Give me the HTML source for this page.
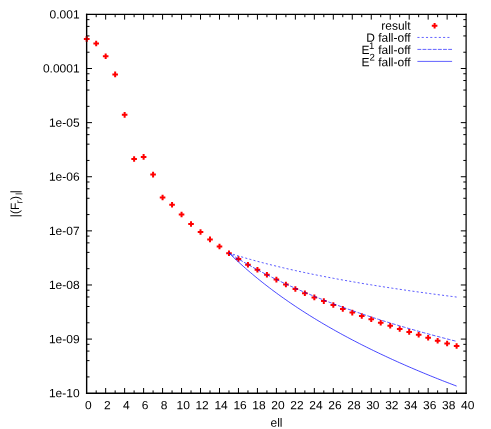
<!DOCTYPE html>
<html><head><meta charset="utf-8"><title>plot</title>
<style>
html,body{margin:0;padding:0;background:#fff;}
svg{display:block;will-change:transform;opacity:0.999}
text{font-family:"Liberation Sans",sans-serif;font-size:12px;fill:#000;text-rendering:geometricPrecision}
</style></head><body>
<svg width="491" height="429" viewBox="0 0 491 429">
<rect width="491" height="429" fill="#fff"/>
<path d="M83.90 39.00h5.6M86.70 36.20v5.6M93.39 43.50h5.6M96.19 40.70v5.6M102.87 56.30h5.6M105.67 53.50v5.6M112.36 74.40h5.6M115.16 71.60v5.6M121.84 114.85h5.6M124.64 112.05v5.6M131.32 159.00h5.6M134.12 156.20v5.6M140.81 156.90h5.6M143.61 154.10v5.6M150.29 174.60h5.6M153.09 171.80v5.6M159.78 197.50h5.6M162.58 194.70v5.6M169.26 204.80h5.6M172.06 202.00v5.6M178.75 214.50h5.6M181.55 211.70v5.6M188.23 224.00h5.6M191.03 221.20v5.6M197.72 232.00h5.6M200.52 229.20v5.6M207.20 239.40h5.6M210.00 236.60v5.6M216.69 246.50h5.6M219.49 243.70v5.6M226.17 253.20h5.6M228.97 250.40v5.6M235.66 259.00h5.6M238.46 256.20v5.6M245.14 264.80h5.6M247.94 262.00v5.6M254.63 269.80h5.6M257.43 267.00v5.6M264.11 274.80h5.6M266.91 272.00v5.6M273.60 279.60h5.6M276.40 276.80v5.6M283.08 284.50h5.6M285.88 281.70v5.6M292.57 289.00h5.6M295.37 286.20v5.6M302.05 293.20h5.6M304.85 290.40v5.6M311.54 297.40h5.6M314.34 294.60v5.6M321.02 301.10h5.6M323.82 298.30v5.6M330.51 305.00h5.6M333.31 302.20v5.6M339.99 308.90h5.6M342.79 306.10v5.6M349.48 312.60h5.6M352.28 309.80v5.6M358.96 316.00h5.6M361.76 313.20v5.6M368.45 319.30h5.6M371.25 316.50v5.6M377.93 322.70h5.6M380.73 319.90v5.6M387.42 325.70h5.6M390.22 322.90v5.6M396.90 329.00h5.6M399.70 326.20v5.6M406.39 331.90h5.6M409.19 329.10v5.6M415.87 334.70h5.6M418.67 331.90v5.6M425.36 337.70h5.6M428.16 334.90v5.6M434.84 340.70h5.6M437.64 337.90v5.6M444.33 343.50h5.6M447.13 340.70v5.6M453.81 346.00h5.6M456.61 343.20v5.6" stroke="#ff0000" stroke-width="2" fill="none"/>
<polyline points="228.97,253.00 231.35,253.76 233.72,254.50 236.09,255.23 238.46,255.95 240.83,256.66 243.20,257.36 245.57,258.05 247.94,258.73 250.32,259.39 252.69,260.05 255.06,260.70 257.43,261.35 259.80,261.98 262.17,262.60 264.54,263.22 266.91,263.83 269.29,264.43 271.66,265.02 274.03,265.61 276.40,266.18 278.77,266.75 281.14,267.32 283.51,267.88 285.88,268.43 288.26,268.97 290.63,269.51 293.00,270.04 295.37,270.57 297.74,271.09 300.11,271.60 302.48,272.11 304.85,272.62 307.23,273.11 309.60,273.61 311.97,274.10 314.34,274.58 316.71,275.06 319.08,275.53 321.45,276.00 323.82,276.46 326.20,276.92 328.57,277.38 330.94,277.83 333.31,278.27 335.68,278.71 338.05,279.15 340.42,279.59 342.79,280.02 345.17,280.44 347.54,280.86 349.91,281.28 352.28,281.70 354.65,282.11 357.02,282.52 359.39,282.92 361.76,283.32 364.14,283.72 366.51,284.11 368.88,284.50 371.25,284.89 373.62,285.27 375.99,285.65 378.36,286.03 380.73,286.41 383.11,286.78 385.48,287.15 387.85,287.51 390.22,287.88 392.59,288.24 394.96,288.59 397.33,288.95 399.70,289.30 402.08,289.65 404.45,290.00 406.82,290.34 409.19,290.69 411.56,291.03 413.93,291.36 416.30,291.70 418.67,292.03 421.05,292.36 423.42,292.69 425.79,293.01 428.16,293.34 430.53,293.66 432.90,293.98 435.27,294.29 437.64,294.61 440.02,294.92 442.39,295.23 444.76,295.54 447.13,295.85 449.50,296.15 451.87,296.45 454.24,296.75 456.61,297.05" fill="none" stroke="#0000ff" stroke-width="0.66" stroke-dasharray="2.07,2.194" stroke-dashoffset="0.04"/>
<polyline points="228.97,253.00 231.35,254.52 233.72,256.02 236.09,257.49 238.46,258.94 240.83,260.36 243.20,261.77 245.57,263.15 247.94,264.52 250.32,265.86 252.69,267.18 255.06,268.49 257.43,269.78 259.80,271.05 262.17,272.31 264.54,273.54 266.91,274.76 269.29,275.97 271.66,277.16 274.03,278.33 276.40,279.49 278.77,280.64 281.14,281.77 283.51,282.89 285.88,284.00 288.26,285.09 290.63,286.17 293.00,287.24 295.37,288.29 297.74,289.34 300.11,290.37 302.48,291.39 304.85,292.40 307.23,293.40 309.60,294.39 311.97,295.37 314.34,296.34 316.71,297.29 319.08,298.24 321.45,299.18 323.82,300.11 326.20,301.03 328.57,301.94 330.94,302.85 333.31,303.74 335.68,304.63 338.05,305.50 340.42,306.37 342.79,307.23 345.17,308.09 347.54,308.93 349.91,309.77 352.28,310.60 354.65,311.43 357.02,312.24 359.39,313.05 361.76,313.85 364.14,314.65 366.51,315.44 368.88,316.22 371.25,317.00 373.62,317.77 375.99,318.53 378.36,319.29 380.73,320.04 383.11,320.78 385.48,321.52 387.85,322.26 390.22,322.98 392.59,323.71 394.96,324.42 397.33,325.13 399.70,325.84 402.08,326.54 404.45,327.23 406.82,327.92 409.19,328.61 411.56,329.29 413.93,329.96 416.30,330.64 418.67,331.30 421.05,331.96 423.42,332.62 425.79,333.27 428.16,333.92 430.53,334.56 432.90,335.20 435.27,335.83 437.64,336.46 440.02,337.09 442.39,337.71 444.76,338.33 447.13,338.94 449.50,339.55 451.87,340.16 454.24,340.76 456.61,341.36" fill="none" stroke="#0000ff" stroke-width="0.66" stroke-dasharray="3.62,1.56" stroke-dashoffset="3.0"/>
<polyline points="228.97,253.00 231.35,255.30 233.72,257.56 236.09,259.79 238.46,261.98 240.83,264.14 243.20,266.26 245.57,268.35 247.94,270.42 250.32,272.45 252.69,274.45 255.06,276.42 257.43,278.37 259.80,280.29 262.17,282.18 264.54,284.05 266.91,285.89 269.29,287.71 271.66,289.50 274.03,291.27 276.40,293.02 278.77,294.75 281.14,296.46 283.51,298.15 285.88,299.81 288.26,301.46 290.63,303.09 293.00,304.70 295.37,306.29 297.74,307.86 300.11,309.41 302.48,310.95 304.85,312.47 307.23,313.98 309.60,315.47 311.97,316.94 314.34,318.40 316.71,319.84 319.08,321.27 321.45,322.68 323.82,324.08 326.20,325.47 328.57,326.84 330.94,328.20 333.31,329.54 335.68,330.88 338.05,332.20 340.42,333.50 342.79,334.80 345.17,336.08 347.54,337.36 349.91,338.62 352.28,339.87 354.65,341.10 357.02,342.33 359.39,343.55 361.76,344.76 364.14,345.95 366.51,347.14 368.88,348.32 371.25,349.48 373.62,350.64 375.99,351.79 378.36,352.92 380.73,354.05 383.11,355.17 385.48,356.28 387.85,357.39 390.22,358.48 392.59,359.57 394.96,360.64 397.33,361.71 399.70,362.77 402.08,363.82 404.45,364.87 406.82,365.91 409.19,366.94 411.56,367.96 413.93,368.97 416.30,369.98 418.67,370.98 421.05,371.97 423.42,372.96 425.79,373.94 428.16,374.91 430.53,375.88 432.90,376.84 435.27,377.79 437.64,378.74 440.02,379.68 442.39,380.61 444.76,381.54 447.13,382.46 449.50,383.38 451.87,384.28 454.24,385.19 456.61,386.09" fill="none" stroke="#0000ff" stroke-width="0.72"/>
<path d="M96.19 393.20v-2.8M96.19 14.40v2.8M105.67 393.20v-5.2M105.67 14.40v5.2M115.16 393.20v-2.8M115.16 14.40v2.8M124.64 393.20v-5.2M124.64 14.40v5.2M134.12 393.20v-2.8M134.12 14.40v2.8M143.61 393.20v-5.2M143.61 14.40v5.2M153.09 393.20v-2.8M153.09 14.40v2.8M162.58 393.20v-5.2M162.58 14.40v5.2M172.06 393.20v-2.8M172.06 14.40v2.8M181.55 393.20v-5.2M181.55 14.40v5.2M191.03 393.20v-2.8M191.03 14.40v2.8M200.52 393.20v-5.2M200.52 14.40v5.2M210.00 393.20v-2.8M210.00 14.40v2.8M219.49 393.20v-5.2M219.49 14.40v5.2M228.97 393.20v-2.8M228.97 14.40v2.8M238.46 393.20v-5.2M238.46 14.40v5.2M247.94 393.20v-2.8M247.94 14.40v2.8M257.43 393.20v-5.2M257.43 14.40v5.2M266.91 393.20v-2.8M266.91 14.40v2.8M276.40 393.20v-5.2M276.40 14.40v5.2M285.88 393.20v-2.8M285.88 14.40v2.8M295.37 393.20v-5.2M295.37 14.40v5.2M304.85 393.20v-2.8M304.85 14.40v2.8M314.34 393.20v-5.2M314.34 14.40v5.2M323.82 393.20v-2.8M323.82 14.40v2.8M333.31 393.20v-5.2M333.31 14.40v5.2M342.79 393.20v-2.8M342.79 14.40v2.8M352.28 393.20v-5.2M352.28 14.40v5.2M361.76 393.20v-2.8M361.76 14.40v2.8M371.25 393.20v-5.2M371.25 14.40v5.2M380.73 393.20v-2.8M380.73 14.40v2.8M390.22 393.20v-5.2M390.22 14.40v5.2M399.70 393.20v-2.8M399.70 14.40v2.8M409.19 393.20v-5.2M409.19 14.40v5.2M418.67 393.20v-2.8M418.67 14.40v2.8M428.16 393.20v-5.2M428.16 14.40v5.2M437.64 393.20v-2.8M437.64 14.40v2.8M447.13 393.20v-5.2M447.13 14.40v5.2M456.61 393.20v-2.8M456.61 14.40v2.8M86.70 52.22h2.8M466.10 52.22h-2.8M86.70 35.93h2.8M466.10 35.93h-2.8M86.70 26.41h2.8M466.10 26.41h-2.8M86.70 19.64h2.8M466.10 19.64h-2.8M86.70 68.51h5.3M466.10 68.51h-5.3M86.70 106.34h2.8M466.10 106.34h-2.8M86.70 90.05h2.8M466.10 90.05h-2.8M86.70 80.52h2.8M466.10 80.52h-2.8M86.70 73.76h2.8M466.10 73.76h-2.8M86.70 122.63h5.3M466.10 122.63h-5.3M86.70 160.45h2.8M466.10 160.45h-2.8M86.70 144.16h2.8M466.10 144.16h-2.8M86.70 134.63h2.8M466.10 134.63h-2.8M86.70 127.87h2.8M466.10 127.87h-2.8M86.70 176.74h5.3M466.10 176.74h-5.3M86.70 214.57h2.8M466.10 214.57h-2.8M86.70 198.28h2.8M466.10 198.28h-2.8M86.70 188.75h2.8M466.10 188.75h-2.8M86.70 181.99h2.8M466.10 181.99h-2.8M86.70 230.86h5.3M466.10 230.86h-5.3M86.70 268.68h2.8M466.10 268.68h-2.8M86.70 252.39h2.8M466.10 252.39h-2.8M86.70 242.86h2.8M466.10 242.86h-2.8M86.70 236.10h2.8M466.10 236.10h-2.8M86.70 284.97h5.3M466.10 284.97h-5.3M86.70 322.79h2.8M466.10 322.79h-2.8M86.70 306.50h2.8M466.10 306.50h-2.8M86.70 296.98h2.8M466.10 296.98h-2.8M86.70 290.21h2.8M466.10 290.21h-2.8M86.70 339.08h5.3M466.10 339.08h-5.3M86.70 376.91h2.8M466.10 376.91h-2.8M86.70 360.62h2.8M466.10 360.62h-2.8M86.70 351.09h2.8M466.10 351.09h-2.8M86.70 344.33h2.8M466.10 344.33h-2.8" stroke="#000" stroke-width="1.0" fill="none"/>
<path d="M86.650 13.750L86.650 393.920" stroke="#000" stroke-width="1.4" fill="none"/>
<path d="M466.100 13.750L466.100 393.920" stroke="#000" stroke-width="1.22" fill="none"/>
<path d="M85.950 14.375L466.710 14.375" stroke="#000" stroke-width="1.25" fill="none"/>
<path d="M85.950 393.230L466.710 393.230" stroke="#000" stroke-width="1.37" fill="none"/>
<path d="M83.90 39.00h5.6M86.70 36.20v5.6" stroke="#ff0000" stroke-width="2" fill="none" opacity="0.45"/>
<text transform="translate(410.60,29.80) matrix(1 0.0006 0 1 0 0)" text-anchor="end">result</text>
<text transform="translate(410.60,41.80) matrix(1 0.0006 0 1 0 0)" text-anchor="end">D fall-off</text>
<text transform="translate(410.60,54.10) matrix(1 0.0006 0 1 0 0)" text-anchor="end">E<tspan font-size="9.6" dy="-5.2" dx="-0.5">1</tspan><tspan dy="5.2" dx="0.5"> fall-off</tspan></text>
<text transform="translate(410.60,66.20) matrix(1 0.0006 0 1 0 0)" text-anchor="end">E<tspan font-size="9.6" dy="-5.6">2</tspan><tspan dy="5.6"> fall-off</tspan></text>
<path d="M431.8 25.7h5.6M434.6 22.9v5.6" stroke="#ff0000" stroke-width="2" fill="none"/>
<path d="M417.4 37.45H449.6" stroke="#0000ff" stroke-width="0.62" stroke-dasharray="2.1,2.18"/>
<path d="M417.4 49.4H452.1" stroke="#0000ff" stroke-width="0.62" stroke-dasharray="3.85,1.28"/>
<path d="M417.4 61.4H452.1" stroke="#0000ff" stroke-width="0.62"/>
<text transform="translate(88.30,409.15) matrix(1 0.0006 0 1 0 0)" text-anchor="middle">0</text>
<text transform="translate(107.27,409.15) matrix(1 0.0006 0 1 0 0)" text-anchor="middle">2</text>
<text transform="translate(126.24,409.15) matrix(1 0.0006 0 1 0 0)" text-anchor="middle">4</text>
<text transform="translate(145.21,409.15) matrix(1 0.0006 0 1 0 0)" text-anchor="middle">6</text>
<text transform="translate(164.18,409.15) matrix(1 0.0006 0 1 0 0)" text-anchor="middle">8</text>
<text transform="translate(183.15,409.15) matrix(1 0.0006 0 1 0 0)" text-anchor="middle">10</text>
<text transform="translate(202.12,409.15) matrix(1 0.0006 0 1 0 0)" text-anchor="middle">12</text>
<text transform="translate(221.09,409.15) matrix(1 0.0006 0 1 0 0)" text-anchor="middle">14</text>
<text transform="translate(240.06,409.15) matrix(1 0.0006 0 1 0 0)" text-anchor="middle">16</text>
<text transform="translate(259.03,409.15) matrix(1 0.0006 0 1 0 0)" text-anchor="middle">18</text>
<text transform="translate(278.00,409.15) matrix(1 0.0006 0 1 0 0)" text-anchor="middle">20</text>
<text transform="translate(296.97,409.15) matrix(1 0.0006 0 1 0 0)" text-anchor="middle">22</text>
<text transform="translate(315.94,409.15) matrix(1 0.0006 0 1 0 0)" text-anchor="middle">24</text>
<text transform="translate(334.91,409.15) matrix(1 0.0006 0 1 0 0)" text-anchor="middle">26</text>
<text transform="translate(353.88,409.15) matrix(1 0.0006 0 1 0 0)" text-anchor="middle">28</text>
<text transform="translate(372.85,409.15) matrix(1 0.0006 0 1 0 0)" text-anchor="middle">30</text>
<text transform="translate(391.82,409.15) matrix(1 0.0006 0 1 0 0)" text-anchor="middle">32</text>
<text transform="translate(410.79,409.15) matrix(1 0.0006 0 1 0 0)" text-anchor="middle">34</text>
<text transform="translate(429.76,409.15) matrix(1 0.0006 0 1 0 0)" text-anchor="middle">36</text>
<text transform="translate(448.73,409.15) matrix(1 0.0006 0 1 0 0)" text-anchor="middle">38</text>
<text transform="translate(467.70,409.15) matrix(1 0.0006 0 1 0 0)" text-anchor="middle">40</text>
<text transform="translate(79.60,18.50) matrix(1 0.0006 0 1 0 0)" text-anchor="end">0.001</text>
<text transform="translate(79.60,72.61) matrix(1 0.0006 0 1 0 0)" text-anchor="end">0.0001</text>
<text transform="translate(79.60,126.73) matrix(1 0.0006 0 1 0 0)" text-anchor="end">1e-05</text>
<text transform="translate(79.60,180.84) matrix(1 0.0006 0 1 0 0)" text-anchor="end">1e-06</text>
<text transform="translate(79.60,234.96) matrix(1 0.0006 0 1 0 0)" text-anchor="end">1e-07</text>
<text transform="translate(79.60,289.07) matrix(1 0.0006 0 1 0 0)" text-anchor="end">1e-08</text>
<text transform="translate(79.60,343.18) matrix(1 0.0006 0 1 0 0)" text-anchor="end">1e-09</text>
<text transform="translate(79.60,397.30) matrix(1 0.0006 0 1 0 0)" text-anchor="end">1e-10</text>
<text transform="translate(276.50,426.80) matrix(1 0.0006 0 1 0 0)" text-anchor="middle">ell</text>
<text transform="translate(18.90,217.15) rotate(-90) matrix(1 0.0006 0 1 0 0)" text-anchor="start">|(F<tspan font-size="9.6" dy="3.6" dx="-0.7">r</tspan><tspan dy="-3.6" dx="0.2">)</tspan><tspan font-size="9.6" dy="3.6" dx="1.0">l</tspan><tspan dy="-3.6" dx="-0.37">|</tspan></text>
</svg></body></html>
